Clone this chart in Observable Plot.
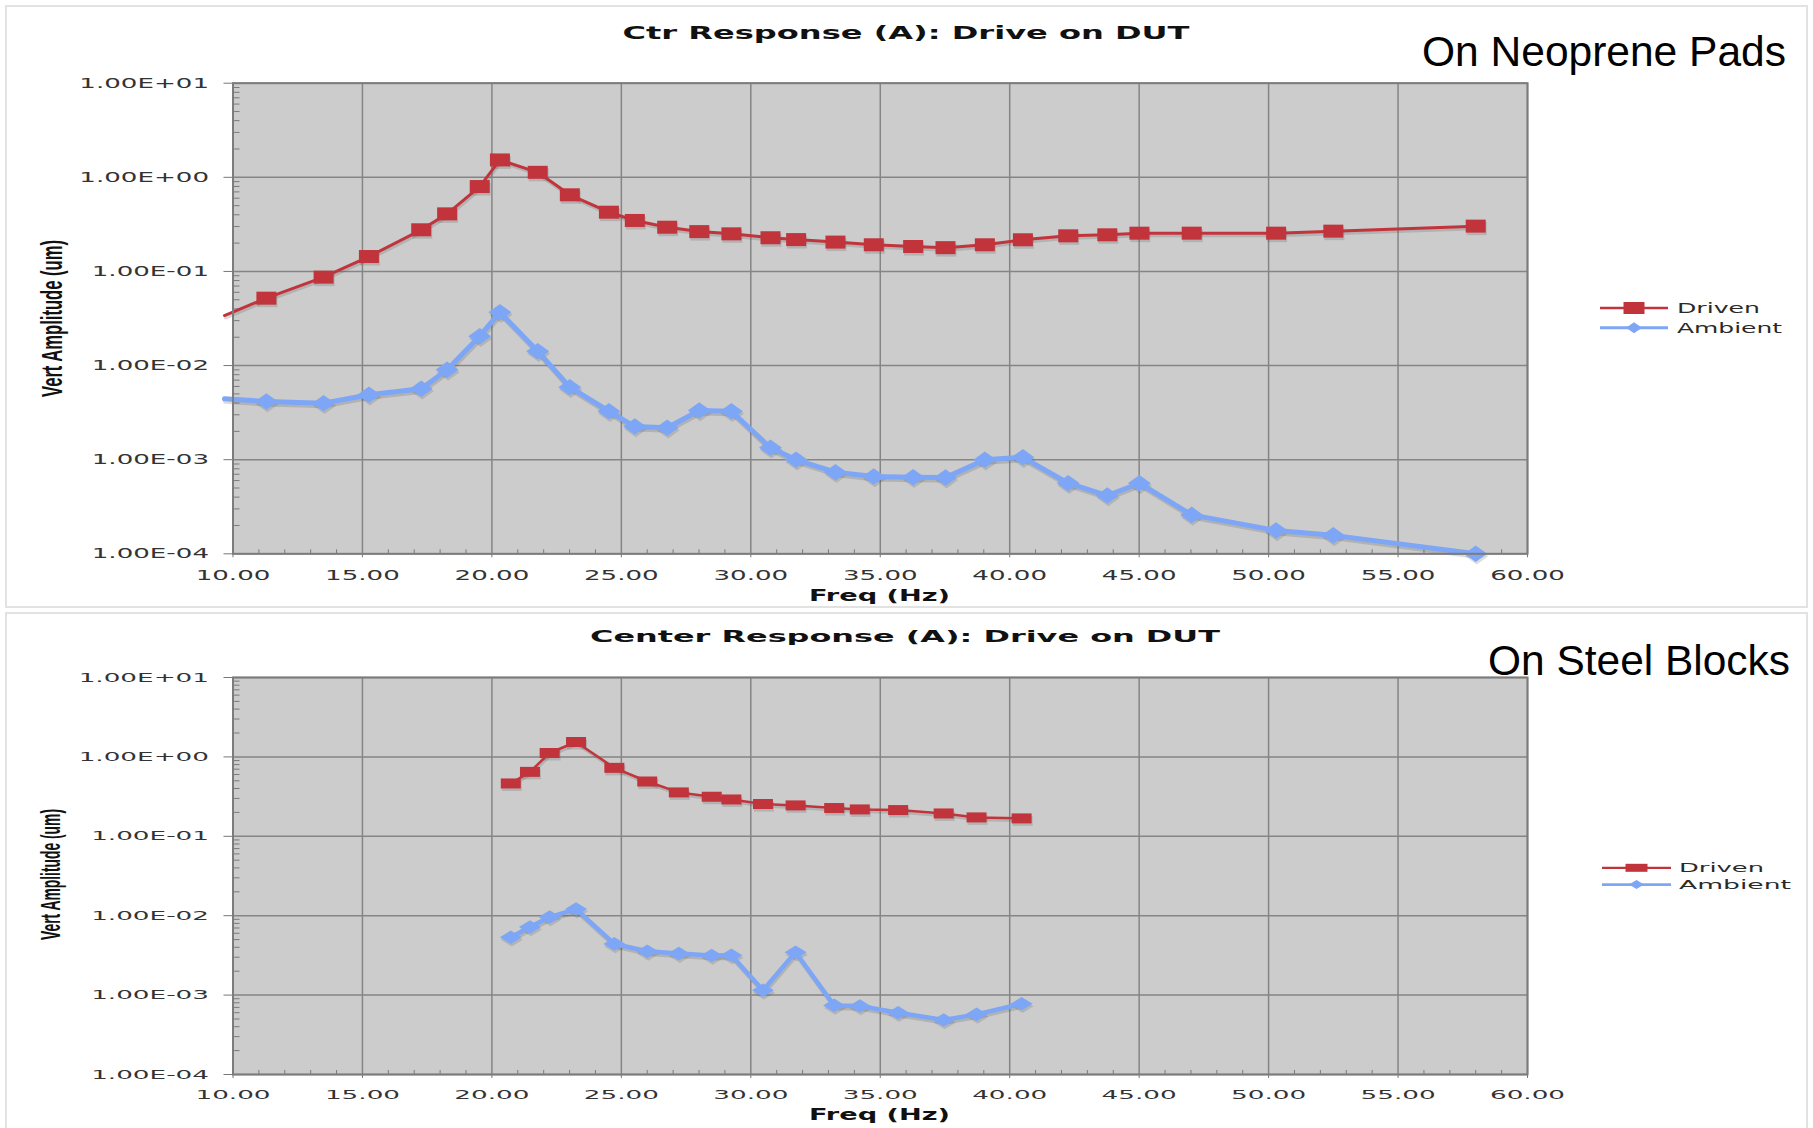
<!DOCTYPE html>
<html>
<head>
<meta charset="utf-8">
<script src="https://cdn.jsdelivr.net/npm/d3@7"></script>
<script src="https://cdn.jsdelivr.net/npm/@observablehq/plot@0.6"></script>
<style>
html, body { margin: 0; padding: 0; background: #fff; }
#page { position: relative; width: 1813px; height: 1128px; overflow: hidden; background: #fff; }
.panel { position: absolute; border: 2px solid #e2e2e2; box-sizing: border-box; }
#top { position: absolute; left: 0; top: 0; }
#bot { position: absolute; left: 0; top: 610px; }
</style>
</head>
<body>
<div id="page">
  <div class="panel" style="left:5px;top:5px;width:1803px;height:603px"></div>
  <div class="panel" style="left:5px;top:612px;width:1803px;height:530px"></div>
  <div id="top"></div>
  <div id="bot"></div>
</div>
<script>
// ---------------- data ----------------
const seriesNames = ["Driven", "Ambient"];

// Top chart: "On Neoprene Pads"
const freqTop = [9.67, 11.29, 13.50, 15.25, 17.27, 18.27, 19.53, 20.31, 21.77, 23.01,
  24.52, 25.52, 26.77, 28.01, 29.25, 30.76, 31.75, 33.27, 34.75, 36.27,
  37.52, 39.04, 40.51, 42.26, 43.77, 45.01, 47.03, 50.29, 52.50, 58.00];
const drivenTop = [0.034, 0.052, 0.087, 0.144, 0.277, 0.409, 0.798, 1.53, 1.13, 0.652,
  0.426, 0.348, 0.295, 0.265, 0.251, 0.228, 0.218, 0.205, 0.192, 0.184,
  0.179, 0.192, 0.217, 0.239, 0.245, 0.255, 0.255, 0.255, 0.268, 0.303];
const ambientTop = [0.00443, 0.00415, 0.00398, 0.00489, 0.00566, 0.00902, 0.0205, 0.0369, 0.01422, 0.00589,
  0.00327, 0.00225, 0.00218, 0.00333, 0.00327, 0.00134, 0.000998, 0.000736, 0.000662, 0.000652,
  0.000645, 0.000998, 0.00106, 0.000562, 0.000416, 0.000562, 0.000259, 0.000177, 0.000157, 0.0001];

// Bottom chart: "On Steel Blocks"
const freqBottom = [20.73, 21.47, 22.23, 23.25, 24.73, 26.00, 27.22, 28.49, 29.25, 30.47,
  31.73, 33.22, 34.21, 35.69, 37.45, 38.72, 40.46];
const drivenBottom = [0.463, 0.648, 1.12, 1.54, 0.728, 0.490, 0.357, 0.315, 0.291, 0.255,
  0.245, 0.227, 0.218, 0.214, 0.194, 0.173, 0.168];
const ambientBottom = [0.00535, 0.00721, 0.00962, 0.01213, 0.00441, 0.00356, 0.00333, 0.00315, 0.00318, 0.00115,
  0.00347, 0.000742, 0.000728, 0.000600, 0.000486, 0.000572, 0.000778];

// Axes
const xTicks = [10, 15, 20, 25, 30, 35, 40, 45, 50, 55, 60];
const xTickLabels = ["10.00", "15.00", "20.00", "25.00", "30.00", "35.00", "40.00", "45.00", "50.00", "55.00", "60.00"];
const xMinorTicks = [11,12,13,14,16,17,18,19,21,22,23,24,26,27,28,29,31,32,33,34,36,37,38,39,41,42,43,44,46,47,48,49,51,52,53,54,56,57,58,59];
const yTicks = [1e-4, 1e-3, 1e-2, 1e-1, 1, 10];
const yTickLabels = ["1.00E-04", "1.00E-03", "1.00E-02", "1.00E-01", "1.00E+00", "1.00E+01"];
const yMinorTicks = [2e-4,3e-4,4e-4,5e-4,6e-4,7e-4,8e-4,9e-4, 2e-3,3e-3,4e-3,5e-3,6e-3,7e-3,8e-3,9e-3,
  2e-2,3e-2,4e-2,5e-2,6e-2,7e-2,8e-2,9e-2, 0.2,0.3,0.4,0.5,0.6,0.7,0.8,0.9, 2,3,4,5,6,7,8,9];

const titles = ["Ctr Response (A): Drive on DUT", "Center Response (A): Drive on DUT"];
const notes = ["On Neoprene Pads", "On Steel Blocks"];
const xLabel = "Freq (Hz)";
const yLabel = "Vert Amplitude (um)";

// ---------------- styling ----------------
const RED = "#c1343b";
const BLUE = "#7ea6f6";
const GRID = "#858585";

function rectSymbol(ratio) {
  return { draw(ctx, size) {
    const r = Math.sqrt(size / Math.PI), h = r * ratio;
    ctx.moveTo(-r, -h); ctx.lineTo(r, -h); ctx.lineTo(r, h); ctx.lineTo(-r, h); ctx.closePath();
  }};
}
function diamondSymbol(ratio) {
  return { draw(ctx, size) {
    const r = Math.sqrt(size / Math.PI), h = r * ratio;
    ctx.moveTo(-r, 0); ctx.lineTo(0, -h); ctx.lineTo(r, 0); ctx.lineTo(0, h); ctx.closePath();
  }};
}

function addText(svg, o) {
  const t = d3.select(svg).append("text")
    .attr("x", o.x).attr("y", o.y).text(o.text)
    .attr("font-family", o.family || "DejaVu Sans")
    .attr("font-size", o.size)
    .attr("font-weight", o.weight || "normal")
    .attr("fill", o.fill || "#111")
    .attr("text-anchor", o.anchor || "start");
  if (o.length) t.attr("textLength", o.length).attr("lengthAdjust", "spacingAndGlyphs");
  if (o.rotate) t.attr("transform", `rotate(${o.rotate},${o.x},${o.y})`);
  return t;
}

function addLegend(svg, L) {
  const g = d3.select(svg).append("g");
  const rows = [
    { name: seriesNames[0], color: RED, w: L.redW, y: L.y1, shape: "rect", len: L.len1, mw: L.sqW, mh: L.sqH },
    { name: seriesNames[1], color: BLUE, w: L.blueW, y: L.y2, shape: "diamond", len: L.len2, mw: L.dmW, mh: L.dmH }
  ];
  for (const r of rows) {
    g.append("line").attr("x1", L.x1).attr("x2", L.x2).attr("y1", r.y).attr("y2", r.y)
      .attr("stroke", r.color).attr("stroke-width", r.w);
    const cx = (L.x1 + L.x2) / 2;
    if (r.shape === "rect") {
      g.append("rect").attr("x", cx - r.mw / 2).attr("y", r.y - r.mh / 2)
        .attr("width", r.mw).attr("height", r.mh).attr("fill", r.color);
    } else {
      g.append("path").attr("d", `M${cx - r.mw/2},${r.y}L${cx},${r.y - r.mh/2}L${cx + r.mw/2},${r.y}L${cx},${r.y + r.mh/2}Z`)
        .attr("fill", r.color);
    }
    addText(svg, { x: L.tx, y: r.y + L.size * 0.36, text: r.name, size: L.size, fill: "#2a2a2a", length: r.len });
  }
}

function makeChart(cfg) {
  const rows = cfg.freq.map((f, i) => ({ f, driven: cfg.driven[i], ambient: cfg.ambient[i] }));
  const inside = d => d.f >= xTicks[0];
  const frameW = 1813 - 232.5 - 286;
  const frameH = cfg.height - cfg.mt - cfg.mb;
  const sq = rectSymbol(cfg.sqRatio), dm = diamondSymbol(cfg.dmRatio);
  const svg = Plot.plot({
    width: 1813,
    height: cfg.height,
    marginLeft: 232.5,
    marginRight: 286,
    marginTop: cfg.mt,
    marginBottom: cfg.mb,
    x: { type: "linear", domain: [xTicks[0], xTicks[xTicks.length - 1]] },
    y: { type: "log", domain: [yTicks[0], yTicks[yTicks.length - 1]] },
    style: { fontFamily: "DejaVu Sans", fontSize: cfg.tickFont + "px", color: "#333", background: "transparent", overflow: "visible" },
    marks: [
      Plot.frame({ fill: "#cccccc", stroke: null }),
      Plot.gridX({ ticks: xTicks, stroke: GRID, strokeOpacity: 1, strokeWidth: 1.5 }),
      Plot.gridY({ ticks: yTicks, stroke: GRID, strokeOpacity: 1, strokeWidth: 1.5 }),
      Plot.ruleY(yMinorTicks, { y: d => d, insetRight: frameW - 7, stroke: "#7a7a7a", strokeWidth: 1 }),
      Plot.ruleX(xMinorTicks, { x: d => d, insetTop: frameH - 4, stroke: "#7a7a7a", strokeWidth: 1 }),
      Plot.axisX({ ticks: xTicks, tickSize: 4, tickPadding: cfg.xPad, tickFormat: d => xTickLabels[xTicks.indexOf(d)], label: null, stroke: "#777" }),
      Plot.axisY({ ticks: yTicks, tickSize: 9, tickPadding: 15, tickFormat: d => yTickLabels[yTicks.indexOf(d)], label: null, stroke: "#777" }),
      // shadows
      Plot.line(rows, { x: "f", y: "ambient", stroke: "#555", strokeOpacity: 0.22, strokeWidth: cfg.blueW, dy: 2.5, dx: 1 }),
      Plot.line(rows, { x: "f", y: "driven", stroke: "#555", strokeOpacity: 0.22, strokeWidth: cfg.redW, dy: 2.5, dx: 1 }),
      Plot.dot(rows, { filter: inside, x: "f", y: "driven", symbol: sq, r: cfg.mr, fill: "#555", fillOpacity: 0.22, stroke: "none", dy: 2.5, dx: 1 }),
      Plot.dot(rows, { filter: inside, x: "f", y: "ambient", symbol: dm, r: cfg.dr, fill: "#555", fillOpacity: 0.2, stroke: "none", dy: 2.5, dx: 1 }),
      // series
      Plot.line(rows, { x: "f", y: "ambient", stroke: BLUE, strokeWidth: cfg.blueW, strokeLinejoin: "round" }),
      Plot.dot(rows, { filter: inside, x: "f", y: "ambient", symbol: dm, r: cfg.dr, fill: BLUE, stroke: "none" }),
      Plot.line(rows, { x: "f", y: "driven", stroke: RED, strokeWidth: cfg.redW, strokeLinejoin: "round" }),
      Plot.dot(rows, { filter: inside, x: "f", y: "driven", symbol: sq, r: cfg.mr, fill: RED, stroke: "none" }),
      Plot.frame({ stroke: "#7c7c7c", strokeWidth: 2 })
    ]
  });
  // stretch tick labels horizontally like the original
  d3.select(svg).selectAll('g[aria-label="x-axis tick label"] text, g[aria-label="y-axis tick label"] text')
    .attr("transform", function () { return (this.getAttribute("transform") || "") + ` scale(${cfg.tickScale},1)`; });
  return svg;
}

// ---------------- top chart ----------------
const topSvg = makeChart({
  freq: freqTop, driven: drivenTop, ambient: ambientTop,
  height: 610, mt: 82.7, mb: 56.7, tickFont: 14.5, tickScale: 1.8, xPad: 12,
  redW: 3, blueW: 5, mr: 10, dr: 11.5, sqRatio: 0.65, dmRatio: 0.72
});
addText(topSvg, { x: 906, y: 39.3, text: titles[0], size: 17.5, weight: "bold", anchor: "middle", length: 567 });
addText(topSvg, { x: 1422, y: 66, text: notes[0], size: 42, family: "Liberation Sans, Arial, sans-serif", fill: "#000", length: 364 });
addText(topSvg, { x: 61.5, y: 318.5, text: yLabel, size: 30, weight: "bold", family: "Liberation Sans Narrow, Liberation Sans, sans-serif", anchor: "middle", rotate: -90, length: 157 });
addText(topSvg, { x: 879.5, y: 601, text: xLabel, size: 15, weight: "bold", anchor: "middle", length: 141 });
addLegend(topSvg, { x1: 1600, x2: 1668, tx: 1677, y1: 308, y2: 327.7, size: 14, len1: 83, len2: 105,
  redW: 2.5, blueW: 3, sqW: 21, sqH: 12, dmW: 16, dmH: 11 });
document.getElementById("top").appendChild(topSvg);

// ---------------- bottom chart ----------------
const botSvg = makeChart({
  freq: freqBottom, driven: drivenBottom, ambient: ambientBottom,
  height: 518, mt: 67, mb: 54, tickFont: 12.5, tickScale: 2.1, xPad: 12,
  redW: 2.5, blueW: 4.5, mr: 10, dr: 11, sqRatio: 0.5, dmRatio: 0.62
});
addText(botSvg, { x: 905, y: 32, text: titles[1], size: 16.5, weight: "bold", anchor: "middle", length: 630 });
addText(botSvg, { x: 1488, y: 64.5, text: notes[1], size: 43, family: "Liberation Sans, Arial, sans-serif", fill: "#000", length: 302 });
addText(botSvg, { x: 60, y: 264.5, text: yLabel, size: 28, weight: "bold", family: "Liberation Sans Narrow, Liberation Sans, sans-serif", anchor: "middle", rotate: -90, length: 131 });
addText(botSvg, { x: 879.5, y: 510, text: xLabel, size: 15, weight: "bold", anchor: "middle", length: 141 });
addLegend(botSvg, { x1: 1602, x2: 1671, tx: 1679, y1: 257.8, y2: 274.6, size: 11.5, len1: 85, len2: 112,
  redW: 2.2, blueW: 2.8, sqW: 22, sqH: 8, dmW: 15, dmH: 9 });
document.getElementById("bot").appendChild(botSvg);
</script>
</body>
</html>
